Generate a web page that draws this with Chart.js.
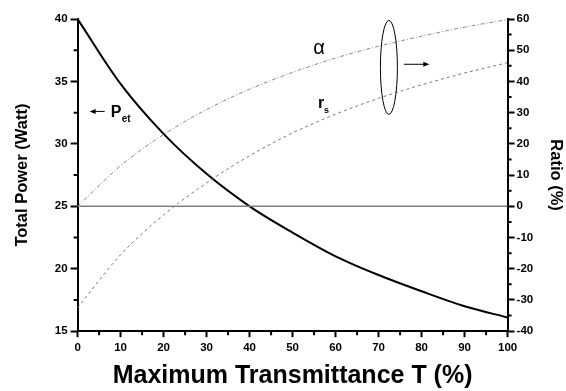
<!DOCTYPE html>
<html>
<head>
<meta charset="utf-8">
<script src="https://cdn.jsdelivr.net/npm/chart.js@4"></script>
<style>
  html, body { margin: 0; padding: 0; background: #fff; }
  #wrap { width: 566px; height: 391px; }
</style>
</head>
<body>
<div id="wrap"><canvas id="c" width="566" height="391"></canvas></div>
<script>
// Maximum transmittance T (%)
const transmittance = [0, 10, 20, 30, 40, 50, 60, 70, 80, 90, 100];
// Total power P_et (Watt), left axis
const powerPet = [40.0, 34.8, 30.8, 27.6, 25.0, 22.9, 21.0, 19.5, 18.2, 17.0, 16.1];
// Ratios (%), right axis
const ratioAlpha = [0, 13.0, 23.0, 31.0, 37.5, 42.9, 47.5, 51.3, 54.5, 57.4, 59.8];
const ratioRs = [-32.5, -15.5, -2.8, 7.5, 16.2, 23.5, 29.5, 34.6, 38.9, 42.7, 46.0];
// Reference line at 0 % on the ratio axis
const zeroLineT = [0, 100];
const zeroLineV = [0, 0];

const xTicks = [0, 10, 20, 30, 40, 50, 60, 70, 80, 90, 100];
const leftTicks = [15, 20, 25, 30, 35, 40];
const rightTicks = [-40, -30, -20, -10, 0, 10, 20, 30, 40, 50, 60];

const FONT = '"Liberation Sans", Arial, sans-serif';
const pts = (xs, ys) => xs.map((x, i) => ({ x: x, y: ys[i] }));

// Minor ticks, curve labels, ellipse and arrows
const decorations = {
  id: 'decorations',
  afterDraw(chart) {
    const { ctx, scales } = chart;
    const x = scales.x, y = scales.y, y1 = scales.y1;
    ctx.save();
    ctx.strokeStyle = '#000';
    ctx.lineWidth = 2;
    ctx.beginPath();
    for (let v = 5; v < 100; v += 10) {
      const px = x.getPixelForValue(v);
      ctx.moveTo(px, x.top); ctx.lineTo(px, x.top + 4);
    }
    for (let v = 17.5; v < 40; v += 5) {
      const py = y.getPixelForValue(v);
      ctx.moveTo(y.right, py); ctx.lineTo(y.right - 4, py);
    }
    for (let v = -35; v < 60; v += 10) {
      const py = y1.getPixelForValue(v);
      ctx.moveTo(y1.left, py); ctx.lineTo(y1.left + 4, py);
    }
    ctx.stroke();

    ctx.fillStyle = '#000';
    ctx.strokeStyle = '#000';
    ctx.lineWidth = 1;
    // arrow pointing to the left axis, then the P_et label
    const ay = y.getPixelForValue(32.6);
    const ax0 = x.getPixelForValue(2.8), ax1 = x.getPixelForValue(6.3);
    ctx.beginPath(); ctx.moveTo(ax1, ay); ctx.lineTo(ax0 + 4, ay); ctx.stroke();
    ctx.beginPath(); ctx.moveTo(ax0, ay); ctx.lineTo(ax0 + 6, ay - 2.5); ctx.lineTo(ax0 + 6, ay + 2.5); ctx.closePath(); ctx.fill();
    ctx.textBaseline = 'alphabetic';
    ctx.textAlign = 'left';
    ctx.font = 'bold 16px ' + FONT;
    const px = x.getPixelForValue(7.7);
    ctx.fillText('P', px, ay + 6);
    ctx.font = 'bold 10px ' + FONT;
    ctx.fillText('et', px + 11, ay + 11);

    // alpha and r_s labels
    ctx.font = '20px ' + FONT;
    ctx.fillText('\u03b1', x.getPixelForValue(54.8), y1.getPixelForValue(48.7));
    ctx.font = 'bold 16px ' + FONT;
    const rx = x.getPixelForValue(55.9), ry = y1.getPixelForValue(31.4);
    ctx.fillText('r', rx, ry);
    ctx.font = 'bold 9px ' + FONT;
    ctx.fillText('s', rx + 6, ry + 5);

    // ellipse grouping the ratio curves
    ctx.beginPath();
    ctx.ellipse(x.getPixelForValue(72.4), y1.getPixelForValue(44.5), 8.5, 47, 0, 0, Math.PI * 2);
    ctx.stroke();
    // arrow toward the right axis
    const by = y1.getPixelForValue(45.5);
    const bx0 = x.getPixelForValue(75.9), bx1 = x.getPixelForValue(81.8);
    ctx.beginPath(); ctx.moveTo(bx0, by); ctx.lineTo(bx1 - 4, by); ctx.stroke();
    ctx.beginPath(); ctx.moveTo(bx1, by); ctx.lineTo(bx1 - 6, by - 2.5); ctx.lineTo(bx1 - 6, by + 2.5); ctx.closePath(); ctx.fill();
    ctx.restore();
  }
};

const tickFont = { family: FONT, size: 11.5, weight: 'bold' };

new Chart(document.getElementById('c'), {
  type: 'line',
  data: {
    datasets: [
      {
        label: 'zero',
        data: pts(zeroLineT, zeroLineV),
        yAxisID: 'y1',
        borderColor: '#808080',
        borderWidth: 1.5,
        pointRadius: 0
      },
      {
        label: 'alpha',
        data: pts(transmittance, ratioAlpha),
        yAxisID: 'y1',
        borderColor: '#8a8a8a',
        borderWidth: 1,
        borderDash: [4, 2, 1, 2],
        pointRadius: 0,
        cubicInterpolationMode: 'monotone'
      },
      {
        label: 'rs',
        data: pts(transmittance, ratioRs),
        yAxisID: 'y1',
        borderColor: '#7a7a7a',
        borderWidth: 1,
        borderDash: [3, 3],
        pointRadius: 0,
        cubicInterpolationMode: 'monotone'
      },
      {
        label: 'Pet',
        data: pts(transmittance, powerPet),
        yAxisID: 'y',
        borderColor: '#000',
        borderWidth: 2,
        pointRadius: 0,
        cubicInterpolationMode: 'monotone'
      }
    ]
  },
  options: {
    responsive: false,
    animation: false,
    layout: { padding: { top: 19, right: 1, bottom: 0, left: 13 } },
    plugins: { legend: { display: false }, tooltip: { enabled: false } },
    scales: {
      x: {
        type: 'linear', min: 0, max: 100,
        afterBuildTicks: s => { s.ticks = xTicks.map(v => ({ value: v })); },
        ticks: { font: tickFont, color: '#000', padding: 4, maxRotation: 0 },
        grid: { drawOnChartArea: false, drawTicks: true, tickLength: 6, tickWidth: 2, tickColor: '#000' },
        border: { color: '#000', width: 2 },
        title: { display: true, text: 'Maximum Transmittance T (%)', color: '#000',
                 font: { family: FONT, size: 25, weight: 'bold' }, padding: { top: 2, bottom: 0 } }
      },
      y: {
        type: 'linear', position: 'left', min: 15, max: 40,
        afterBuildTicks: s => { s.ticks = leftTicks.map(v => ({ value: v })); },
        ticks: { font: tickFont, color: '#000', padding: 3 },
        grid: { drawOnChartArea: false, drawTicks: true, tickLength: 7, tickWidth: 2, tickColor: '#000' },
        border: { color: '#000', width: 2 },
        title: { display: true, text: 'Total Power (Watt)', color: '#000',
                 font: { family: FONT, size: 16.5, weight: 'bold' }, padding: { top: 0, bottom: 19 } }
      },
      y1: {
        type: 'linear', position: 'right', min: -40, max: 60,
        afterBuildTicks: s => { s.ticks = rightTicks.map(v => ({ value: v })); },
        ticks: { font: tickFont, color: '#000', padding: 2 },
        grid: { drawOnChartArea: false, drawTicks: true, tickLength: 7, tickWidth: 2, tickColor: '#000' },
        border: { color: '#000', width: 2 },
        title: { display: true, text: 'Ratio (%)', color: '#000',
                 font: { family: FONT, size: 16.5, weight: 'bold' }, padding: { top: 0, bottom: 10 } }
      }
    }
  },
  plugins: [decorations]
});
</script>
</body>
</html>
